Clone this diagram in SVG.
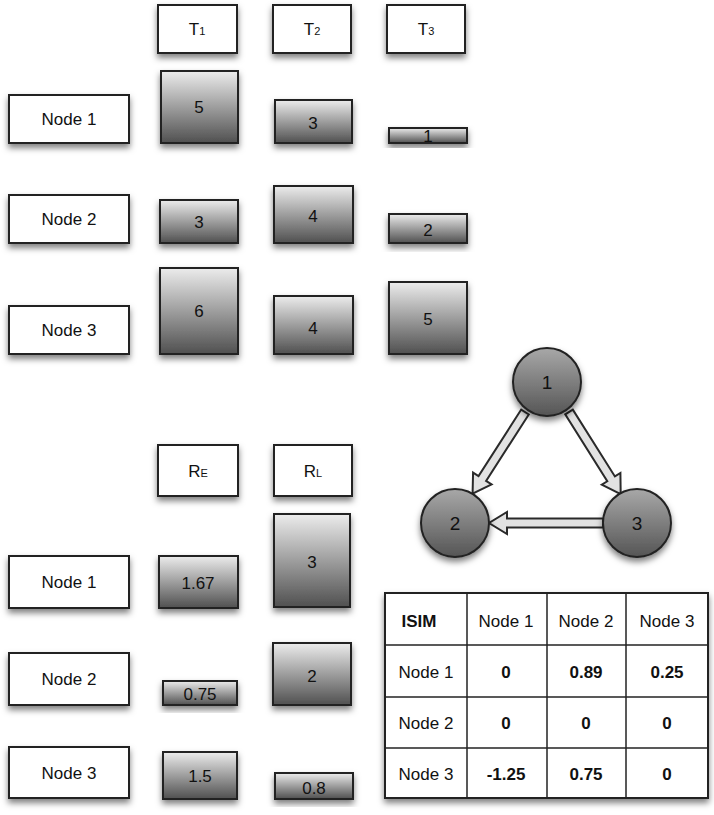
<svg xmlns="http://www.w3.org/2000/svg" width="714" height="815" viewBox="0 0 714 815">
<defs>
<filter id="sh" x="-20%" y="-20%" width="140%" height="150%">
<feDropShadow dx="0" dy="4" stdDeviation="3" flood-color="#000" flood-opacity="0.5"/>
</filter>
<linearGradient id="bar" x1="0" y1="0" x2="0" y2="1">
<stop offset="0" stop-color="#ececec"/>
<stop offset="1" stop-color="#505050"/>
</linearGradient>
<linearGradient id="circ" x1="0" y1="0" x2="0" y2="1">
<stop offset="0" stop-color="#a8a8a8"/>
<stop offset="1" stop-color="#555"/>
</linearGradient>
<style>
.box{fill:#fff;stroke:#222;stroke-width:2;filter:url(#sh)}
.bar{fill:url(#bar);stroke:#222;stroke-width:2;filter:url(#sh)}
.c{fill:url(#circ);stroke:#222;stroke-width:2;filter:url(#sh)}
.t{font-family:"Liberation Sans",Arial,sans-serif;font-size:17px;fill:#111;text-anchor:middle}
.ct{font-size:19px}
.b{font-weight:bold}
.sub{font-size:11px}
.arr{fill:#e2e2e2;stroke:#2a2a2a;stroke-width:2;stroke-linejoin:miter}
.tbl{fill:#fff;stroke:#222;stroke-width:2;filter:url(#sh)}
.gl{stroke:#222;stroke-width:1.5}
</style>
</defs>

<!-- headers -->
<g id="hT1"><rect class="box" x="158" y="5" width="79" height="48"/><text class="t" x="197" y="35">T<tspan class="sub">1</tspan></text></g>
<g id="hT2"><rect class="box" x="273" y="5" width="78" height="48"/><text class="t" x="312" y="35">T<tspan class="sub">2</tspan></text></g>
<g id="hT3"><rect class="box" x="387" y="5" width="78" height="48"/><text class="t" x="426" y="35">T<tspan class="sub">3</tspan></text></g>

<!-- node labels top -->
<g id="n1a"><rect class="box" x="9" y="95" width="120" height="48"/><text class="t" x="69" y="125">Node 1</text></g>
<g id="n2a"><rect class="box" x="9" y="195" width="120" height="48"/><text class="t" x="69" y="225">Node 2</text></g>
<g id="n3a"><rect class="box" x="9" y="306" width="120" height="48"/><text class="t" x="69" y="336">Node 3</text></g>

<!-- bars top -->
<g id="b11"><rect class="bar" x="161" y="71" width="77" height="72"/><text class="t" x="199" y="113">5</text></g>
<g id="b12"><rect class="bar" x="275" y="100" width="77" height="43"/><text class="t" x="313" y="129">3</text></g>
<g id="b13"><rect class="bar" x="389" y="128" width="78" height="15"/><text class="t" x="428" y="142">1</text></g>
<g id="b21"><rect class="bar" x="160" y="200" width="78" height="43"/><text class="t" x="199" y="228">3</text></g>
<g id="b22"><rect class="bar" x="274" y="186" width="79" height="57"/><text class="t" x="313" y="222">4</text></g>
<g id="b23"><rect class="bar" x="389" y="214" width="78" height="29"/><text class="t" x="428" y="236">2</text></g>
<g id="b31"><rect class="bar" x="160" y="268" width="78" height="86"/><text class="t" x="199" y="317">6</text></g>
<g id="b32"><rect class="bar" x="274" y="296" width="79" height="58"/><text class="t" x="313" y="334">4</text></g>
<g id="b33"><rect class="bar" x="389" y="282" width="78" height="72"/><text class="t" x="428" y="325">5</text></g>

<!-- R headers -->
<g id="hRE"><rect class="box" x="158" y="445" width="80" height="51"/><text class="t" x="198" y="477">R<tspan class="sub">E</tspan></text></g>
<g id="hRL"><rect class="box" x="274" y="445" width="78" height="51"/><text class="t" x="313" y="477">R<tspan class="sub">L</tspan></text></g>

<!-- node labels bottom -->
<g id="n1b"><rect class="box" x="9" y="556" width="120" height="52"/><text class="t" x="69" y="588">Node 1</text></g>
<g id="n2b"><rect class="box" x="9" y="653" width="120" height="52"/><text class="t" x="69" y="685">Node 2</text></g>
<g id="n3b"><rect class="box" x="9" y="747" width="120" height="51"/><text class="t" x="69" y="779">Node 3</text></g>

<!-- R bars -->
<g id="r1e"><rect class="bar" x="159" y="556" width="79" height="52"/><text class="t" x="198" y="589">1.67</text></g>
<g id="r1l"><rect class="bar" x="274" y="514" width="76" height="93"/><text class="t" x="312" y="568">3</text></g>
<g id="r2e"><rect class="bar" x="163" y="681" width="74" height="24"/><text class="t" x="200" y="700">0.75</text></g>
<g id="r2l"><rect class="bar" x="273" y="643" width="78" height="62"/><text class="t" x="312" y="682">2</text></g>
<g id="r3e"><rect class="bar" x="163" y="752" width="74" height="47"/><text class="t" x="200" y="782">1.5</text></g>
<g id="r3l"><rect class="bar" x="275" y="773" width="78" height="26"/><text class="t" x="314" y="794">0.8</text></g>

<!-- connectors -->
<g id="edges">
<polygon class="arr" points="0,-4.5 79,-4.5 79,-11 97,0 79,11 79,4.5 0,4.5" transform="translate(525,412) rotate(122.7)"/>
<polygon class="arr" points="0,-4.5 79,-4.5 79,-11 97,0 79,11 79,4.5 0,4.5" transform="translate(569,412) rotate(57.8)"/>
<polygon class="arr" points="0,-4.5 96,-4.5 96,-11 114,0 96,11 96,4.5 0,4.5" transform="translate(603,523) rotate(180)"/>
</g>

<!-- graph nodes -->
<g id="g1"><circle class="c" cx="547" cy="382" r="34"/><text class="t ct" x="547" y="389">1</text></g>
<g id="g2"><circle class="c" cx="455" cy="523" r="34"/><text class="t ct" x="455" y="530">2</text></g>
<g id="g3"><circle class="c" cx="637" cy="523" r="34"/><text class="t ct" x="637" y="530">3</text></g>

<!-- table -->
<g id="isim">
<rect class="tbl" x="385" y="593" width="323" height="205"/>
<line class="gl" x1="467" y1="593" x2="467" y2="798"/>
<line class="gl" x1="547" y1="593" x2="547" y2="798"/>
<line class="gl" x1="626" y1="593" x2="626" y2="798"/>
<line class="gl" x1="385" y1="645" x2="708" y2="645"/>
<line class="gl" x1="385" y1="697" x2="708" y2="697"/>
<line class="gl" x1="385" y1="748" x2="708" y2="748"/>
<text class="t b" x="419" y="627">ISIM</text>
<text class="t" x="506" y="627">Node 1</text>
<text class="t" x="586" y="627">Node 2</text>
<text class="t" x="667" y="627">Node 3</text>
<text class="t" x="426" y="678">Node 1</text>
<text class="t b" x="506" y="678">0</text>
<text class="t b" x="586" y="678">0.89</text>
<text class="t b" x="667" y="678">0.25</text>
<text class="t" x="426" y="729">Node 2</text>
<text class="t b" x="506" y="729">0</text>
<text class="t b" x="586" y="729">0</text>
<text class="t b" x="667" y="729">0</text>
<text class="t" x="426" y="780">Node 3</text>
<text class="t b" x="506" y="780">-1.25</text>
<text class="t b" x="586" y="780">0.75</text>
<text class="t b" x="667" y="780">0</text>
</g>
</svg>
